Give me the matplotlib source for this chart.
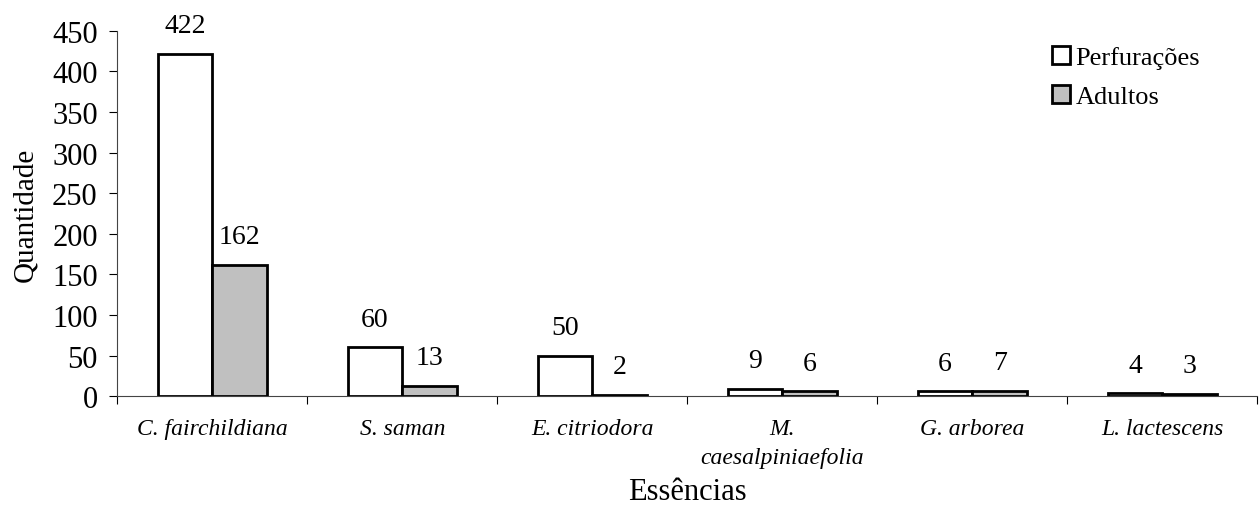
import numpy as np
import matplotlib.pyplot as plt

plt.rcParams['font.family'] = ['Liberation Serif', 'DejaVu Serif']

especies = ['C. fairchildiana', 'S. saman', 'E. citriodora',
            'M.\ncaesalpiniaefolia', 'G. arborea', 'L. lactescens']
perfuracoes = [422, 60, 50, 9, 6, 4]
adultos = [162, 13, 2, 6, 7, 3]

fig = plt.figure(figsize=(12.6, 5.06), dpi=100)
ax = fig.add_axes([0.093, 0.215, 0.905, 0.722])

x = np.arange(len(especies))
w = 0.287
b1 = ax.bar(x - w / 2, perfuracoes, w, color='white', edgecolor='black',
            linewidth=2, label='Perfurações')
b2 = ax.bar(x + w / 2, adultos, w, color='#c0c0c0', edgecolor='black',
            linewidth=2, label='Adultos')

for bars, vals in ((b1, perfuracoes), (b2, adultos)):
    for r, v in zip(bars, vals):
        ax.text(r.get_x() + r.get_width() / 2, v + 19, str(v),
                ha='center', va='bottom', fontsize=20)

ax.set_xlim(-0.5, len(especies) - 0.5)
ax.set_ylim(0, 450)
ax.set_yticks(range(0, 451, 50))
ax.tick_params(axis='y', labelsize=22, direction='out', length=6, width=0.8,
               pad=8)

ax.set_xticks(np.arange(-0.5, len(especies), 1))
ax.set_xticklabels([])
ax.set_xticks(x, minor=True)
ax.set_xticklabels(especies, minor=True, fontsize=17, style='italic',
                   linespacing=1.45)
ax.tick_params(axis='x', which='major', direction='out', length=6, width=0.8)
ax.tick_params(axis='x', which='minor', length=0, pad=16)

ax.spines['top'].set_visible(False)
ax.spines['right'].set_visible(False)
for s in ('left', 'bottom'):
    ax.spines[s].set_linewidth(0.8)
    ax.spines[s].set_color('#444444')

ax.set_ylabel('Quantidade', fontsize=21, labelpad=10)
ax.set_xlabel('Essências', fontsize=22, labelpad=7)

ax.legend(loc='upper right', bbox_to_anchor=(0.9635, 1.003), frameon=False,
          fontsize=19, handlelength=0.7, handleheight=0.7, handletextpad=0.2,
          labelspacing=0.6, borderaxespad=0.2)

fig.savefig('out.png', dpi=100)
